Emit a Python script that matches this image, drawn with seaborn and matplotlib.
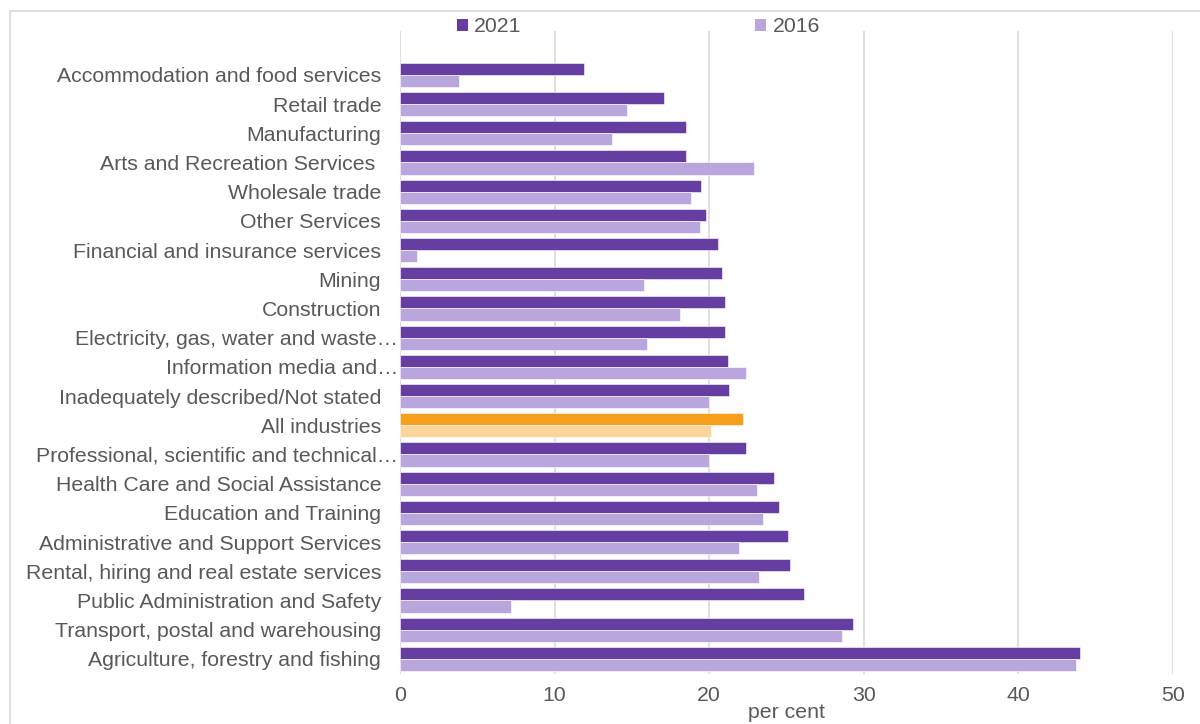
import matplotlib
matplotlib.use("Agg")
import matplotlib.pyplot as plt
from matplotlib.patches import Patch, Rectangle
from matplotlib.transforms import ScaledTranslation
import seaborn as sns
import pandas as pd

industries = [
    "Accommodation and food services",
    "Retail trade",
    "Manufacturing",
    "Arts and Recreation Services ",
    "Wholesale trade",
    "Other Services",
    "Financial and insurance services",
    "Mining",
    "Construction",
    "Electricity, gas, water and waste…",
    "Information media and…",
    "Inadequately described/Not stated",
    "All industries",
    "Professional, scientific and technical…",
    "Health Care and Social Assistance",
    "Education and Training",
    "Administrative and Support Services",
    "Rental, hiring and real estate services",
    "Public Administration and Safety",
    "Transport, postal and warehousing",
    "Agriculture, forestry and fishing",
]
share_2021 = [11.9, 17.1, 18.5, 18.5, 19.5, 19.8, 20.6, 20.8, 21.0, 21.0, 21.2,
              21.3, 22.2, 22.4, 24.2, 24.5, 25.1, 25.2, 26.1, 29.3, 44.0]
share_2016 = [3.8, 14.7, 13.7, 22.9, 18.8, 19.4, 1.1, 15.8, 18.1, 16.0, 22.4,
              20.0, 20.1, 20.0, 23.1, 23.5, 21.9, 23.2, 7.2, 28.6, 43.7]
years = ["2021", "2016"]
x_ticks = [0, 10, 20, 30, 40, 50]
highlight = "All industries"

c_2021 = "#663da1"
c_2016 = "#b9a6dd"
c_hi_2021 = "#f79e1b"
c_hi_2016 = "#fad499"
text_col = "#595959"
grid_col = "#d9d9d9"

df = pd.DataFrame({
    "industry": industries * 2,
    "year": [years[0]] * len(industries) + [years[1]] * len(industries),
    "value": share_2021 + share_2016,
})

sns.set_style("white")
plt.rcParams["font.family"] = ["Liberation Sans", "DejaVu Sans"]

W, H = 1200, 724
fig = plt.figure(figsize=(W / 100, H / 100), dpi=100)
ax = fig.add_axes([400 / W, 1 - 673.5 / H, (1173 - 400) / W, (673.5 - 31) / H])

sns.barplot(data=df, y="industry", x="value", hue="year", order=industries,
            hue_order=years, palette=[c_2021, c_2016], saturation=1, orient="h",
            width=0.83, edgecolor="white", linewidth=0.4, ax=ax, legend=False)

# highlight the all-industries row
hi = industries.index(highlight)
ax.containers[0][hi].set_facecolor(c_hi_2021)
ax.containers[1][hi].set_facecolor(c_hi_2016)

ax.set_xlim(0, 50)
ax.set_ylim(len(industries) - 0.5, -1.5)
ax.set_xticks(x_ticks)
ax.set_xticklabels([str(t) for t in x_ticks])
ax.grid(axis="x", color=grid_col, linewidth=1.2)
ax.grid(axis="y", visible=False)
ax.set_axisbelow(True)
for s in ax.spines.values():
    s.set_visible(False)

ax.tick_params(axis="y", length=0, pad=13.5, labelsize=15.3, labelcolor=text_col)
ax.tick_params(axis="x", length=0, pad=9, labelsize=15.3, labelcolor=text_col)

# truncated labels sit flush against the axis
for lbl in ax.get_yticklabels():
    if lbl.get_text().endswith("…"):
        lbl.set_transform(lbl.get_transform() + ScaledTranslation(17 / 100, 0, fig.dpi_scale_trans))

ax.set_ylabel("")
ax.set_xlabel("per cent", fontsize=15.3, color=text_col)
ax.xaxis.set_label_coords(0.5, -(713 - 673.5) / (673.5 - 31))
ax.xaxis.label.set_va("center")

handles = [Patch(facecolor=c_2021, edgecolor="none"), Patch(facecolor=c_2016, edgecolor="none")]
leg = fig.legend(handles, years, loc="center", bbox_to_anchor=(638.5 / W, 1 - 27 / H),
                 ncol=2, frameon=False, fontsize=15.3, handlelength=0.5, handleheight=0.5,
                 handletextpad=0.3, columnspacing=11.0, borderpad=0)
for t in leg.get_texts():
    t.set_color(text_col)

# chart frame
fig.patches.append(Rectangle((10 / W, -0.1), 2, 1.1 - 11 / H, transform=fig.transFigure,
                             fill=False, edgecolor=grid_col, linewidth=1.2))

fig.savefig("out.png", dpi=100, facecolor="white")
